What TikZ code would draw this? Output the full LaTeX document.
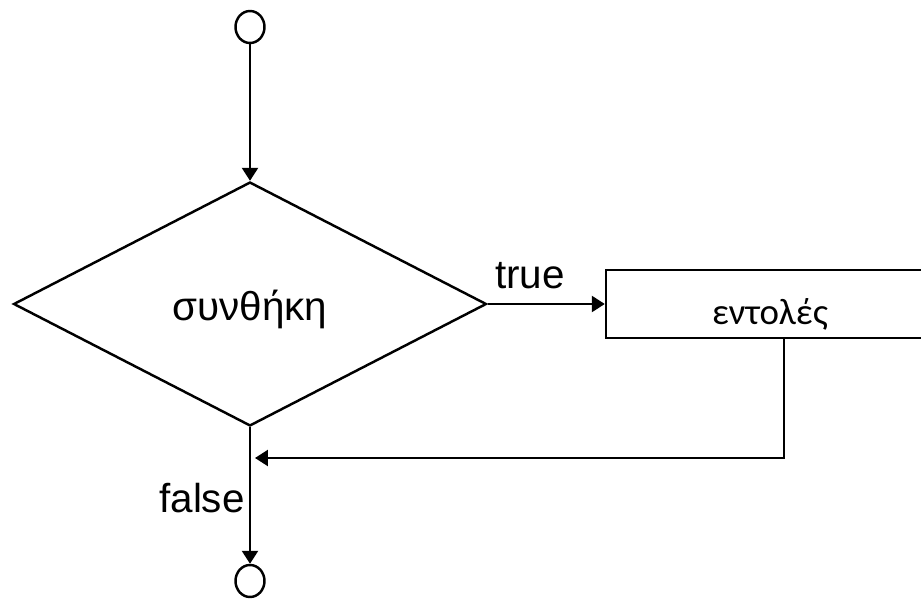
\documentclass[tikz,border=0pt]{standalone}
\usepackage{fontspec}
\setmainfont{Liberation Sans}
\newfontfamily\calfont{Carlito}
\usetikzlibrary{shapes.geometric,arrows.meta}
\begin{document}
\begin{tikzpicture}[>={Triangle[length=0.26cm,width=0.32cm]},x=0.02cm,y=-0.02cm,line width=1.4pt,
	term/.style={draw,ellipse,inner sep=0pt,minimum width=0.58cm,minimum height=0.64cm},
	cond/.style={draw,diamond,inner sep=0pt,minimum width=9.46cm,minimum height=4.88cm,text height=0.64cm,text depth=0cm},
	cmdbox/.style={draw,rectangle,inner sep=0pt,minimum width=6.56cm,minimum height=1.36cm,text height=0.84cm,text depth=0cm},
	lbl/.style={anchor=base,font=\fontsize{23}{27}\selectfont}]
		\useasboundingbox (0,0) rectangle (921,599);
		\clip (0,0) rectangle (921,599);
		\node[term] (start) at (250,27) {};
		\node[cond,font=\fontsize{23}{27}\selectfont] (test) at (250,304) {συνθήκη};
		\node[cmdbox,font=\calfont\fontsize{21}{25}\selectfont] (body) at (770,304) {εντολές};
		\node[term] (stop) at (250,581) {};
		\coordinate (turn) at (784,458);
		\coordinate (join) at (255,458);
		\draw[->] (start) -- (test);
		\draw[->] (test) -- (body);
		\draw[->] (body.south -| turn) -- (turn) -- (join);
		\draw[->] (test) -- (stop);
		\node[lbl] (yes) at (530,288) {true};
		\node[lbl] (no) at (202,512) {false};
		
		\end{tikzpicture}
\end{document}
